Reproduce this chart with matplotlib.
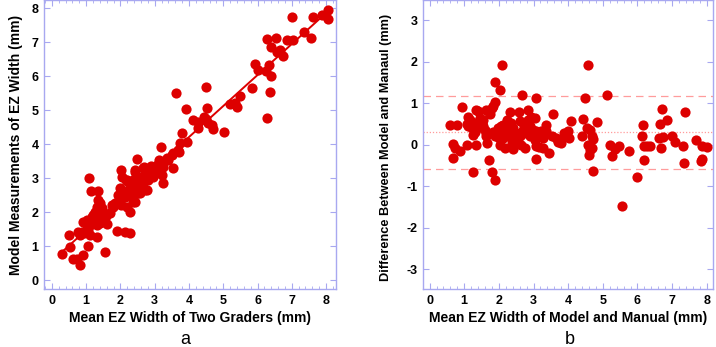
import numpy as np
import matplotlib.pyplot as plt
from matplotlib.ticker import MultipleLocator

plt.rcParams['font.family'] = ['Liberation Sans', 'DejaVu Sans']
plt.rcParams['axes.unicode_minus'] = False

# panel a: mean of two graders vs model measurement (mm)
grader_mean = [8.06, 8.05, 7.88, 7.63, 7.36, 7.56, 7.0, 7.04, 6.86, 6.54, 6.28, 6.39, 6.56, 6.66,
               6.74, 6.34, 5.93, 6.02, 6.25, 6.39, 6.36, 6.27, 5.83, 5.49, 5.41, 5.34, 5.2, 5.02,
               4.71, 4.67, 4.56, 4.5, 4.44, 4.53, 4.5, 4.27, 4.12, 3.91, 3.61, 3.95, 3.79, 3.74,
               3.54, 3.71, 3.4, 3.18, 3.52, 3.13, 3.07, 3.25, 2.98, 2.69, 2.47, 2.42, 2.03, 2.16,
               1.09, 4.27, 3.68, 3.5, 3.25, 3.15, 3.0, 3.21, 3.24, 2.42, 2.66, 2.77, 2.63, 2.86,
               2.81, 2.19, 2.37, 2.33, 2.47, 2.66, 2.77, 2.51, 2.23, 1.99, 1.93, 2.07, 2.37, 1.13,
               1.35, 1.35, 1.4, 1.31, 1.26, 1.2, 1.35, 1.4, 1.5, 0.91, 1.03, 1.11, 1.31, 1.4,
               1.6, 1.69, 1.78, 1.9, 1.99, 2.13, 2.04, 2.38, 2.57, 2.72, 2.96, 2.18, 1.89, 2.13,
               2.28, 1.55, 0.87, 0.82, 0.77, 1.05, 1.11, 1.32, 0.5, 0.53, 1.06, 0.91, 0.3, 0.62,
               0.74, 0.82, 1.75, 1.84, 2.03, 2.28, 1.46, 2.42, 2.28, 2.47, 2.19, 1.17, 1.45, 1.57,
               1.02, 0.95, 1.22, 2.9, 3.35, 2.55]
model_ez = [7.97, 7.68, 7.8, 7.74, 7.3, 7.12, 7.75, 7.08, 7.08, 7.12, 7.09, 6.86, 6.72, 6.77,
            6.6, 6.33, 6.36, 6.18, 6.15, 6.0, 5.54, 4.78, 5.66, 5.42, 5.09, 5.22, 5.18, 4.36,
            4.44, 4.57, 4.62, 4.76, 4.8, 5.06, 5.69, 4.47, 4.71, 5.03, 5.5, 4.07, 4.32, 4.03,
            3.73, 3.78, 3.53, 3.91, 3.29, 3.55, 3.39, 3.34, 3.24, 3.34, 3.58, 3.19, 3.24, 2.95,
            3.0, 4.65, 3.83, 3.69, 3.45, 3.24, 3.15, 3.1, 2.86, 3.24, 3.3, 3.15, 3.04, 3.04,
            2.95, 2.95, 2.95, 2.8, 2.75, 2.75, 2.66, 2.56, 2.66, 2.71, 2.5, 2.5, 2.45, 2.63,
            2.63, 2.36, 2.27, 2.16, 2.0, 1.92, 1.97, 1.83, 1.77, 1.71, 1.77, 1.62, 1.62, 1.68,
            1.65, 1.98, 2.16, 2.27, 2.3, 2.45, 3.04, 2.3, 2.56, 2.65, 3.04, 2.16, 1.45, 1.42,
            1.4, 0.83, 1.42, 1.33, 1.42, 1.48, 1.33, 1.27, 1.33, 0.98, 1.01, 0.74, 0.77, 0.62,
            0.62, 0.45, 2.2, 2.27, 2.2, 2.0, 2.12, 2.3, 2.66, 3.0, 2.92, 1.85, 2.05, 1.9,
            1.5, 1.38, 1.75, 3.35, 3.6, 2.9]

# panel b: Bland-Altman (mean vs difference, mm)
ba_mean = [0.58, 0.8, 0.67, 0.72, 0.87, 0.67, 0.94, 1.1, 1.16, 1.08, 1.1, 1.25, 1.21, 1.3, 1.25,
           1.08, 1.33, 1.24, 1.35, 1.39, 1.45, 1.5, 1.54, 1.59, 1.62, 1.64, 1.64, 1.71, 1.79,
           1.83, 1.73, 1.66, 1.71, 1.79, 1.88, 1.9, 2.02, 2.08, 1.9, 1.83, 1.93, 1.88, 2.07,
           2.12, 2.22, 2.02, 2.17, 2.12, 2.26, 2.33, 2.22, 2.36, 2.41, 2.31, 2.41, 2.5, 2.52,
           2.6, 2.56, 2.7, 2.58, 2.68, 2.6, 2.7, 2.75, 2.83, 2.84, 2.89, 2.79, 2.89, 2.98, 2.94,
           3.08, 3.03, 3.08, 3.03, 3.12, 3.06, 3.16, 3.26, 3.08, 3.23, 3.26, 3.37, 3.35, 3.44,
           3.56, 3.52, 3.66, 3.76, 3.71, 3.8, 3.87, 3.99, 4.08, 4.02, 4.39, 4.43, 4.48, 4.58,
           4.53, 4.62, 4.68, 4.58, 4.62, 4.6, 4.68, 4.72, 4.72, 4.82, 5.11, 5.2, 5.26, 5.35,
           5.46, 5.75, 5.98, 6.12, 6.16, 6.2, 6.27, 6.36, 6.2, 6.65, 6.7, 6.63, 6.74, 6.85, 6.68,
           6.99, 7.09, 7.3, 7.37, 7.34, 7.69, 7.86, 8.0, 7.86, 7.84, 5.55, 1.4, 1.45, 1.55, 2.3,
           2.45, 2.15, 1.97, 2.0, 2.38, 2.65]
ba_diff = [0.48, 0.48, 0.02, -0.08, -0.14, -0.32, 0.91, 0.68, 0.59, 0.49, 0.44, 0.52, 0.4, 0.31,
           0.24, 0.0, 0.0, -0.67, 0.84, 0.82, 0.65, 0.52, 0.44, 0.36, 0.29, 0.2, 0.84, 0.8, 0.88,
           0.94, 0.74, 0.04, -0.38, -0.67, -0.84, 1.52, 1.32, 1.92, 1.04, 0.31, 0.28, 0.2, 0.44,
           0.48, 0.4, 0.0, -0.08, 0.16, 0.2, 0.78, 0.6, 0.52, 0.4, 0.31, -0.1, 0.28, 0.12, 0.2,
           0.04, 0.36, 0.8, 1.2, 0.56, 0.52, -0.08, 0.84, 0.6, 0.44, 0.28, 0.2, 0.36, 0.68, 1.12,
           0.64, 0.32, 0.12, 0.24, -0.02, -0.05, -0.08, -0.34, 0.32, 0.16, 0.48, 0.34, -0.19,
           0.75, 0.2, 0.16, 0.12, 0.07, 0.05, 0.29, 0.34, 0.57, 0.16, 0.22, 0.62, 1.12, 1.92,
           0.4, 0.36, 0.2, 0.0, -0.12, -0.24, -0.07, 0.14, -0.63, 0.55, 1.2, 0.0, -0.28, -0.1,
           -0.04, -0.16, -0.77, 0.2, 0.48, -0.04, -0.02, -0.02, -0.36, 0.5, 0.86, 0.16, 0.18,
           0.6, -0.08, 0.22, 0.07, -0.02, 0.78, -0.44, 0.11, -0.04, -0.06, -0.34, -0.4, -1.47,
           0.55, 0.42, 0.6, 0.45, 0.2, 0.3, 0.4, 0.15, 0.05, 0.0]
bias = 0.30
loa_upper = 1.17
loa_lower = -0.58

red = '#dd0000'
frame = '#a8a8f0'
pink = '#ff9c9c'


def style_axes(ax, xlim, ylim):
    ax.set_xlim(*xlim)
    ax.set_ylim(*ylim)
    for s in ax.spines.values():
        s.set_color(frame)
        s.set_linewidth(1.0)
    ax.xaxis.set_major_locator(MultipleLocator(1))
    ax.xaxis.set_minor_locator(MultipleLocator(0.2))
    ax.yaxis.set_major_locator(MultipleLocator(1))
    ax.tick_params(which='both', direction='in', top=True, right=True, color=frame,
                   labelsize=9, pad=4)
    ax.tick_params(which='major', length=4)
    ax.tick_params(which='minor', length=2)
    for lab in ax.get_xticklabels() + ax.get_yticklabels():
        lab.set_fontweight('bold')


fig = plt.figure(figsize=(7.16, 3.47), dpi=100)

ax1 = fig.add_axes([44 / 716, 58 / 347, 292 / 716, 289 / 347])
ax1.scatter(grader_mean, model_ez, s=54, color=red, linewidths=0, zorder=3)
k, b0 = np.polyfit(grader_mean, model_ez, 1)
xl = np.array([min(grader_mean), max(grader_mean)])
ax1.plot(xl, k * xl + b0, color=red, lw=1.4, zorder=2)
style_axes(ax1, (-0.23, 8.29), (-0.26, 8.25))
ax1.set_xlabel('Mean EZ Width of Two Graders (mm)', fontsize=10, fontweight='bold', labelpad=3)
ax1.set_ylabel('Model Measurements of EZ Width (mm)', fontsize=10, fontweight='bold', labelpad=6)

ax2 = fig.add_axes([423 / 716, 58 / 347, 290 / 716, 289 / 347])
ax2.scatter(ba_mean, ba_diff, s=54, color=red, linewidths=0, zorder=3)
ax2.axhline(loa_upper, color=pink, lw=0.9, ls=(0, (6, 4)), zorder=1)
ax2.axhline(loa_lower, color=pink, lw=0.9, ls=(0, (6, 4)), zorder=1)
ax2.axhline(bias, color=pink, lw=0.9, ls=(0, (1, 1.5)), zorder=1)
style_axes(ax2, (-0.19, 8.18), (-3.48, 3.49))
ax2.set_xlabel('Mean EZ Width of Model and Manual (mm)', fontsize=10, fontweight='bold', labelpad=3)
ax2.set_ylabel('Difference Between Model and Manaul (mm)', fontsize=9.2, fontweight='bold',
               labelpad=9)
ax2.yaxis.set_label_coords(-0.108, 0.49)

fig.text(185 / 716, 1 - 340 / 347, 'a', fontsize=13, ha='center', va='center')
fig.text(570 / 716, 1 - 340 / 347, 'b', fontsize=13, ha='center', va='center')

fig.savefig('out.png', dpi=100)
